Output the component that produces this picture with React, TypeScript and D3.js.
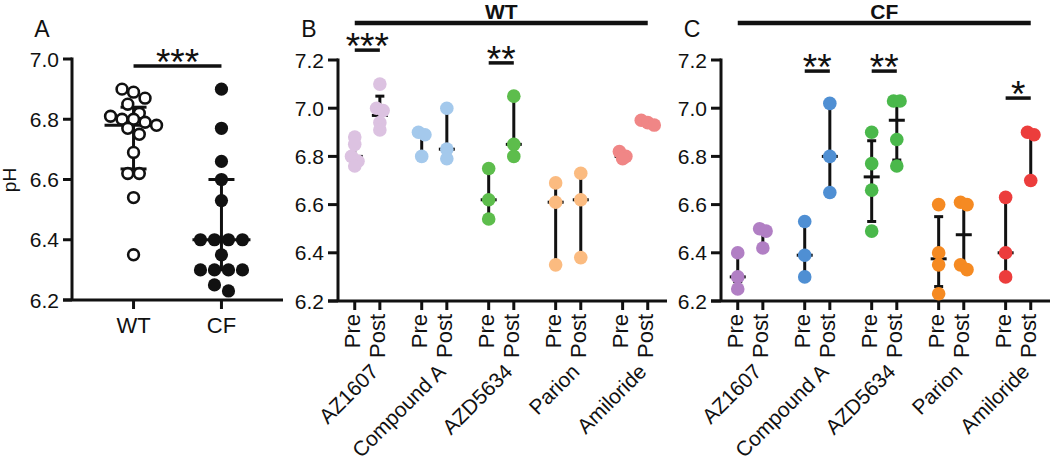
import React from 'react';
import * as d3 from 'd3';

// ---------- Panel A data ----------
const groupsA = ['WT', 'CF'];
const wtValues = [6.90, 6.89, 6.87, 6.85, 6.82, 6.81, 6.80, 6.80, 6.79, 6.78, 6.77, 6.75, 6.69, 6.62, 6.62, 6.54, 6.35];
const cfValues = [6.90, 6.77, 6.66, 6.60, 6.53, 6.40, 6.40, 6.40, 6.40, 6.35, 6.30, 6.30, 6.30, 6.30, 6.25, 6.23];
// [mid, lo, hi]
const summaryA = [[6.78, 6.635, 6.84], [6.40, 6.30, 6.60]];
const yTicksA = [6.2, 6.4, 6.6, 6.8, 7.0];
const sigA = { from: 0, to: 1, level: 6.977, label: '***' };

// ---------- Panels B / C data ----------
const drugs = ['AZ1607', 'Compound A', 'AZD5634', 'Parion', 'Amiloride'];
const timepoints = ['Pre', 'Post'];
const yTicksBC = [6.2, 6.4, 6.6, 6.8, 7.0, 7.2];

const wtColors = ['#dcc2e1', '#a4c9ec', '#5dbd4c', '#fbbb80', '#f08686'];
const cfColors = ['#b17fc4', '#4f8fd3', '#4ab84b', '#f58a22', '#ec3d3c'];

const wtPre = [
  [6.88, 6.85, 6.80, 6.78, 6.76],
  [6.90, 6.89, 6.80],
  [6.75, 6.62, 6.54],
  [6.69, 6.61, 6.35],
  [6.82, 6.80, 6.79],
];
const wtPost = [
  [7.10, 7.00, 6.99, 6.94, 6.91],
  [7.00, 6.83, 6.79],
  [7.05, 6.85, 6.80],
  [6.73, 6.62, 6.38],
  [6.95, 6.94, 6.93],
];
// [mid, lo, hi]
const wtPreSummary = [
  [6.80, 6.78, 6.85],
  [6.89, 6.80, 6.90],
  [6.62, 6.54, 6.75],
  [6.61, 6.35, 6.69],
  [6.80, 6.79, 6.82],
];
const wtPostSummary = [
  [6.97, 6.93, 7.05],
  [6.83, 6.80, 7.00],
  [6.85, 6.80, 7.05],
  [6.62, 6.38, 6.73],
  [6.94, 6.93, 6.95],
];

const cfPre = [
  [6.40, 6.30, 6.25],
  [6.53, 6.39, 6.30],
  [6.90, 6.77, 6.66, 6.49],
  [6.60, 6.40, 6.35, 6.23],
  [6.63, 6.40, 6.30],
];
const cfPost = [
  [6.50, 6.49, 6.42],
  [7.02, 6.80, 6.65],
  [7.03, 7.03, 6.87, 6.76],
  [6.61, 6.60, 6.35, 6.33],
  [6.90, 6.89, 6.70],
];
const cfPreSummary = [
  [6.30, 6.28, 6.40],
  [6.39, 6.30, 6.53],
  [6.715, 6.53, 6.865],
  [6.375, 6.26, 6.55],
  [6.40, 6.30, 6.63],
];
const cfPostSummary = [
  [6.49, 6.42, 6.50],
  [6.80, 6.65, 7.02],
  [6.95, 6.785, 7.03],
  [6.475, 6.35, 6.60],
  [6.89, 6.70, 6.89],
];

const sigB = [
  { drug: 0, level: 7.241, label: '***' },
  { drug: 2, level: 7.188, label: '**' },
];
const sigC = [
  { drug: 1, level: 7.154, label: '**' },
  { drug: 2, level: 7.154, label: '**' },
  { drug: 4, level: 7.042, label: '*' },
];

const FONT = '"Liberation Sans", Arial, Helvetica, sans-serif';
const FS = 21;
const XFS = 22;
const CATFS = 21;
const STAR_FS = 37;

// centered row layout (like a scatter dot plot)
function rowOffsets(values: number[], y: (v: number) => number, bin: number, spacing: number) {
  const idx = values.map((_, i) => i).sort((a, b) => values[b] - values[a]);
  const off = new Array(values.length).fill(0);
  let row: number[] = [];
  let start = 0;
  const flush = () => {
    const n = row.length;
    row.forEach((k, j) => (off[k] = (j - (n - 1) / 2) * spacing));
    row = [];
  };
  for (const k of idx) {
    const py = y(values[k]);
    if (row.length && py - start >= bin) flush();
    if (!row.length) start = py;
    row.push(k);
  }
  flush();
  return off;
}

function PanelA() {
  const x = d3.scaleLinear().domain([-0.7, 1.7]).range([72, 283]);
  const y = d3.scaleLinear().domain([6.2, 7.0]).range([300, 59]);
  const axX = x(-0.7);
  const yBase = y(6.2);
  const wtOff = rowOffsets(wtValues, y, 12, 11.5);
  const cfOff = rowOffsets(cfValues, y, 12, 14);
  const sets = [wtValues, cfValues];
  const offs = [wtOff, cfOff];
  return (
    <g>
      <text x={42} y={37} fontSize={23} textAnchor="middle" fontFamily={FONT}>A</text>
      <g transform="translate(16,180)">
        <text transform="rotate(-90)" fontSize={19} textAnchor="middle" fontFamily={FONT}>pH</text>
      </g>
      {/* y axis */}
      <line x1={axX} x2={axX} y1={y(7.0) - 1.5} y2={yBase} stroke="#111" strokeWidth={3} />
      {yTicksA.map((t) => (
        <g key={t}>
          <line x1={axX - 9} x2={axX} y1={y(t)} y2={y(t)} stroke="#111" strokeWidth={3} />
          <text x={axX - 13} y={y(t)} dy="0.36em" textAnchor="end" fontSize={FS} fontFamily={FONT}>{t.toFixed(1)}</text>
        </g>
      ))}
      {/* x axis */}
      <line x1={axX - 9} x2={x(1.7)} y1={yBase} y2={yBase} stroke="#111" strokeWidth={3} />
      {groupsA.map((g, i) => (
        <g key={g}>
          <line x1={x(i)} x2={x(i)} y1={yBase} y2={yBase + 9} stroke="#111" strokeWidth={3} />
          <text x={x(i)} y={yBase + 33} textAnchor="middle" fontSize={XFS} fontFamily={FONT}>{g}</text>
        </g>
      ))}
      {/* summary lines */}
      {summaryA.map(([mid, lo, hi], i) => (
        <g key={i} stroke="#111" strokeWidth={3}>
          <line x1={x(i)} x2={x(i)} y1={y(hi)} y2={y(lo)} />
          <line x1={x(i) - 29} x2={x(i) + 29} y1={y(mid)} y2={y(mid)} />
          <line x1={x(i) - 13} x2={x(i) + 13} y1={y(hi)} y2={y(hi)} />
          <line x1={x(i) - 13} x2={x(i) + 13} y1={y(lo)} y2={y(lo)} />
        </g>
      ))}
      {/* points */}
      {sets.map((vals, gi) =>
        vals.map((v, k) =>
          gi === 0 ? (
            <circle key={`${gi}-${k}`} cx={x(gi) + offs[gi][k]} cy={y(v)} r={5.4} fill="#fff" stroke="#111" strokeWidth={2.6} />
          ) : (
            <circle key={`${gi}-${k}`} cx={x(gi) + offs[gi][k]} cy={y(v)} r={6.6} fill="#111" />
          )
        )
      )}
      {/* significance */}
      <line x1={x(sigA.from)} x2={x(sigA.to)} y1={y(sigA.level)} y2={y(sigA.level)} stroke="#111" strokeWidth={3.5} />
      <text x={(x(sigA.from) + x(sigA.to)) / 2} y={y(sigA.level) + 9} textAnchor="middle" fontSize={STAR_FS} fontFamily={FONT}>{sigA.label}</text>
    </g>
  );
}

type PanelProps = {
  letter: string;
  header: string;
  x0: number;
  x1: number;
  colors: string[];
  pre: number[][];
  post: number[][];
  preSum: number[][];
  postSum: number[][];
  sig: { drug: number; level: number; label: string }[];
};

function PanelBC({ letter, header, x0, x1, colors, pre, post, preSum, postSum, sig }: PanelProps) {
  // slot units: pre at 8*i, post at 8*i+3
  const x = d3.scaleLinear().domain([-2, 37.3]).range([x0, x1]);
  const y = d3.scaleLinear().domain([6.2, 7.2]).range([301, 60]);
  const pos = (d: number, t: number) => x(d * 8 + t * 3);
  const yBase = y(6.2);
  const headX0 = pos(0, 0);
  const headX1 = pos(drugs.length - 1, 1);
  return (
    <g>
      <text x={x0 - 29} y={37} fontSize={23} textAnchor="middle" fontFamily={FONT}>{letter}</text>
      <line x1={headX0} x2={headX1} y1={23} y2={23} stroke="#111" strokeWidth={4.5} />
      <text x={(headX0 + headX1) / 2} y={18.5} textAnchor="middle" fontSize={21} fontWeight="bold" fontFamily={FONT}>{header}</text>
      {/* y axis */}
      <line x1={x0} x2={x0} y1={y(7.2) - 1.5} y2={yBase} stroke="#111" strokeWidth={3} />
      {yTicksBC.map((t) => (
        <g key={t}>
          <line x1={x0 - 10} x2={x0} y1={y(t)} y2={y(t)} stroke="#111" strokeWidth={3} />
          <text x={x0 - 14} y={y(t)} dy="0.36em" textAnchor="end" fontSize={FS} fontFamily={FONT}>{t.toFixed(1)}</text>
        </g>
      ))}
      {/* x axis */}
      <line x1={x0 - 10} x2={x1} y1={yBase} y2={yBase} stroke="#111" strokeWidth={3} />
      {drugs.map((dname, d) => (
        <g key={dname}>
          {timepoints.map((tp, t) => (
            <g key={tp} transform={`translate(${pos(d, t) + 5},${yBase + 13})`}>
              <line x1={-5} x2={-5} y1={-13} y2={-4} stroke="#111" strokeWidth={3} />
              <text transform="rotate(-90)" textAnchor="end" fontSize={XFS} fontFamily={FONT}>{tp}</text>
            </g>
          ))}
          <g transform={`translate(${pos(d, 1)},${yBase + 72})`}>
            <text transform="rotate(-45)" textAnchor="end" fontSize={CATFS} fontFamily={FONT}>{dname}</text>
          </g>
        </g>
      ))}
      {/* summary lines */}
      {drugs.map((dname, d) =>
        [preSum[d], postSum[d]].map(([mid, lo, hi], t) => (
          <g key={`${dname}-${t}`} stroke="#111" strokeWidth={3}>
            <line x1={pos(d, t)} x2={pos(d, t)} y1={y(hi)} y2={y(lo)} />
            <line x1={pos(d, t) - 8} x2={pos(d, t) + 8} y1={y(mid)} y2={y(mid)} />
            <line x1={pos(d, t) - 4.5} x2={pos(d, t) + 4.5} y1={y(hi)} y2={y(hi)} />
            <line x1={pos(d, t) - 4.5} x2={pos(d, t) + 4.5} y1={y(lo)} y2={y(lo)} />
          </g>
        ))
      )}
      {/* points */}
      {drugs.map((dname, d) =>
        [pre[d], post[d]].map((vals, t) => {
          const off = rowOffsets(vals, y, 6, 6.5);
          return vals.map((v, k) => (
            <circle key={`${dname}-${t}-${k}`} cx={pos(d, t) + off[k]} cy={y(v)} r={6.8} fill={colors[d]} />
          ));
        })
      )}
      {/* significance */}
      {sig.map((s) => {
        const a = pos(s.drug, 0);
        const b = pos(s.drug, 1);
        return (
          <g key={s.drug}>
            <line x1={a} x2={b} y1={y(s.level)} y2={y(s.level)} stroke="#111" strokeWidth={3.5} />
            <text x={(a + b) / 2} y={y(s.level) + 9} textAnchor="middle" fontSize={STAR_FS} fontFamily={FONT}>{s.label}</text>
          </g>
        );
      })}
    </g>
  );
}

export default function App() {
  return (
    <svg width={1050} height={464} style={{ position: 'absolute', left: 0, top: 0, background: '#fff' }} fill="#111">
      <rect x={0} y={0} width={1050} height={464} fill="#fff" />
      <PanelA />
      <PanelBC letter="B" header="WT" x0={338} x1={667} colors={wtColors} pre={wtPre} post={wtPost} preSum={wtPreSummary} postSum={wtPostSummary} sig={sigB} />
      <PanelBC letter="C" header="CF" x0={721} x1={1050} colors={cfColors} pre={cfPre} post={cfPost} preSum={cfPreSummary} postSum={cfPostSummary} sig={sigC} />
    </svg>
  );
}
